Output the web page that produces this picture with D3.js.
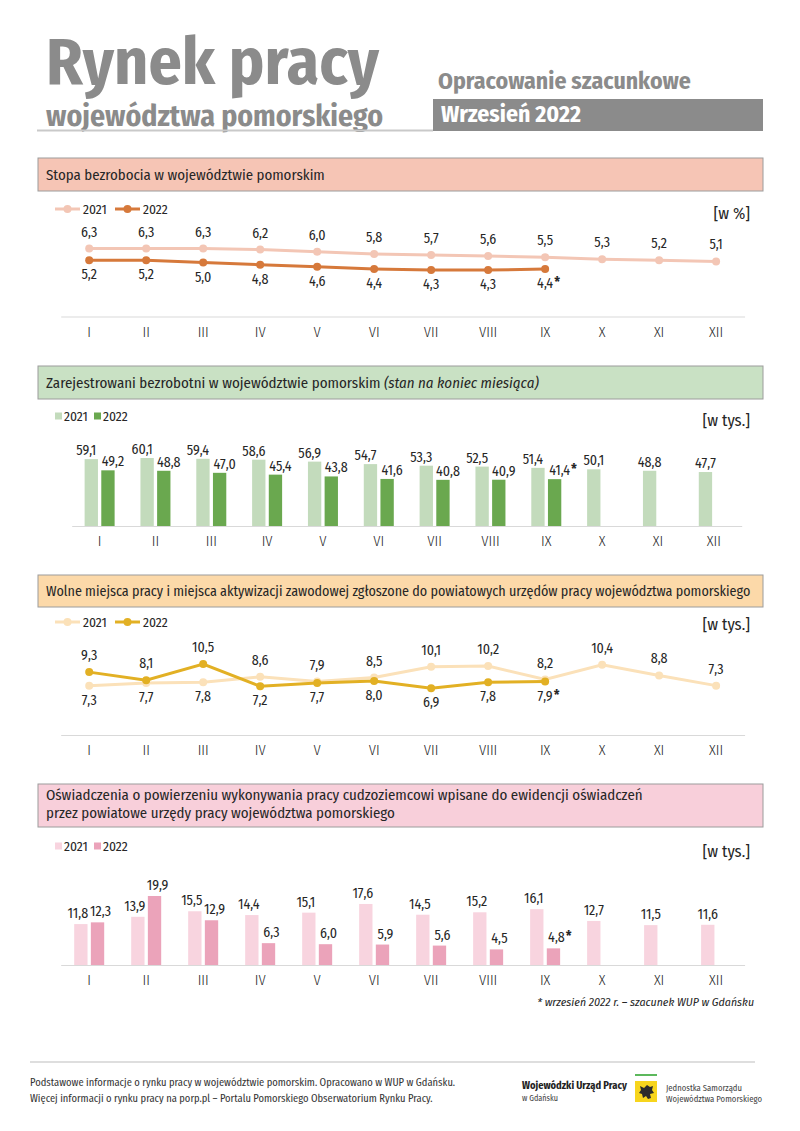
<!DOCTYPE html>
<html>
<head>
<meta charset="utf-8">
<script src="https://cdn.jsdelivr.net/npm/d3@7"></script>
<style>
  body { margin: 0; background: #fff; }
  svg { display: block; font-family: 'Fira Sans Condensed', 'Noto Sans', 'DejaVu Sans', sans-serif; font-stretch: condensed; }
</style>
</head>
<body>
<svg id="chart"></svg>
<script>
const MONTHS = ['I', 'II', 'III', 'IV', 'V', 'VI', 'VII', 'VIII', 'IX', 'X', 'XI', 'XII'];
const SERIES = ['2021', '2022'];

// stopa bezrobocia [w %]
const RATE_2021 = [6.3, 6.3, 6.3, 6.2, 6.0, 5.8, 5.7, 5.6, 5.5, 5.3, 5.2, 5.1];
const RATE_2022 = [5.2, 5.2, 5.0, 4.8, 4.6, 4.4, 4.3, 4.3, 4.4];
// zarejestrowani bezrobotni [w tys.]
const UNEMP_2021 = [59.1, 60.1, 59.4, 58.6, 56.9, 54.7, 53.3, 52.5, 51.4, 50.1, 48.8, 47.7];
const UNEMP_2022 = [49.2, 48.8, 47.0, 45.4, 43.8, 41.6, 40.8, 40.9, 41.4];
// wolne miejsca pracy [w tys.]
const VAC_2021 = [7.3, 7.7, 7.8, 8.6, 7.9, 8.5, 10.1, 10.2, 8.2, 10.4, 8.8, 7.3];
const VAC_2022 = [9.3, 8.1, 10.5, 7.2, 7.7, 8.0, 6.9, 7.8, 7.9];
// oswiadczenia [w tys.]
const DECL_2021 = [11.8, 13.9, 15.5, 14.4, 15.1, 17.6, 14.5, 15.2, 16.1, 12.7, 11.5, 11.6];
const DECL_2022 = [12.3, 19.9, 12.9, 6.3, 6.0, 5.9, 5.6, 4.5, 4.8];

const pl = d3.formatLocale({decimal: ',', thousands: ' ', grouping: [3], currency: ['', ' zł']});
const fmt = pl.format('.1f');

const LABEL_SIZE = 14;

const svg = d3.select('#chart').attr('width', 800).attr('height', 1131);
svg.append('rect').attr('width', 800).attr('height', 1131).attr('fill', '#fff');

// scale font size so the text gets the width it has in the original
function fit(sel, w) {
  sel.each(function () {
    const len = this.getComputedTextLength();
    const fs = parseFloat(this.getAttribute('font-size'));
    this.setAttribute('font-size', (fs * w / len).toFixed(2));
  });
}

function txt(x, y, s, size, opts = {}) {
  return svg.append('text')
    .attr('x', x).attr('y', y)
    .attr('font-size', size)
    .attr('font-weight', opts.weight || 400)
    .attr('font-style', opts.style || 'normal')
    .attr('fill', opts.fill || '#262626')
    .attr('text-anchor', opts.anchor || 'start')
    .text(s);
}

// ---- header
txt(46, 84, 'Rynek pracy', 58, {weight: 700, fill: '#8b8b8b'}).call(fit, 333);
txt(46, 126, 'województwa pomorskiego', 28, {weight: 700, fill: '#8b8b8b'}).call(fit, 337);
svg.append('line').attr('x1', 37).attr('x2', 433).attr('y1', 130.5).attr('y2', 130.5)
  .attr('stroke', '#c9c9c9').attr('stroke-width', 2);
txt(438, 89, 'Opracowanie szacunkowe', 21, {weight: 700, fill: '#8b8b8b'}).call(fit, 253);
svg.append('rect').attr('x', 433).attr('y', 99).attr('width', 330).attr('height', 32).attr('fill', '#8b8b8b');
txt(441, 122, 'Wrzesień 2022', 20, {weight: 700, fill: '#fff'}).call(fit, 140);

// ---- panel pieces
function titleBox(y, h, fill) {
  svg.append('rect').attr('x', 38).attr('y', y).attr('width', 725).attr('height', h)
    .attr('fill', fill).attr('stroke', '#9c9c9c').attr('stroke-width', 1);
}

function lineLegend(y, colors) {
  SERIES.forEach((s, i) => {
    const x0 = 55 + i * 60;
    svg.append('line').attr('x1', x0).attr('x2', x0 + 25).attr('y1', y).attr('y2', y)
      .attr('stroke', colors[i]).attr('stroke-width', 3);
    svg.append('circle').attr('cx', x0 + 12.5).attr('cy', y).attr('r', 4).attr('fill', colors[i]);
    txt(x0 + 28, y + 4.5, s, 13.5);
  });
}

function squareLegend(y, colors) {
  SERIES.forEach((s, i) => {
    const x0 = 55 + i * 39;
    svg.append('rect').attr('x', x0).attr('y', y - 3.5).attr('width', 7).attr('height', 7).attr('fill', colors[i]);
    txt(x0 + 9, y + 4.5, s, 13.5);
  });
}

function unitLabel(y, s) {
  txt(750, y, s, 16.5, {anchor: 'end'});
}

function monthAxis(x, axisY) {
  svg.append('g')
    .attr('transform', `translate(0,${axisY})`)
    .call(d3.axisBottom(x).tickSize(0).tickSizeOuter(0).tickPadding(10))
    .call(g => {
      g.attr('font-family', null).attr('font-size', 14.5).attr('font-weight', 300);
      g.select('.domain').attr('stroke', '#d9d9d9');
      g.selectAll('text').attr('fill', '#262626');
    });
}

function star(x, y) {
  txt(x, y - 1, '*', 14, {weight: 700});
}

function lineChart(x, y, v21, v22, colors) {
  const cx = m => x(m) + x.bandwidth() / 2;
  const line = d3.line().x((d, i) => cx(MONTHS[i])).y(d => y(d));
  [v21, v22].forEach((vals, k) => {
    svg.append('path').datum(vals).attr('d', line)
      .attr('fill', 'none').attr('stroke', colors[k]).attr('stroke-width', 3);
    svg.selectAll(null).data(vals).enter().append('circle')
      .attr('cx', (d, i) => cx(MONTHS[i])).attr('cy', d => y(d)).attr('r', 4).attr('fill', colors[k]);
  });
  MONTHS.forEach((m, i) => {
    const a = v21[i], b = v22[i];
    const up2022 = b !== undefined && b > a;
    const place = (v, above) => {
      const ty = above ? y(v) - 12 : y(v) + 19;
      return txt(cx(m), ty, fmt(v), LABEL_SIZE, {anchor: 'middle'});
    };
    place(a, !up2022);
    if (b !== undefined) {
      const t = place(b, up2022);
      if (i === v22.length - 1) star(cx(m) + t.node().getComputedTextLength() / 2 + 1, +t.attr('y'));
    }
  });
}

function barChart(x, y, v21, v22, colors, labelDx, labelGap) {
  const x1 = d3.scaleBand().domain(SERIES).range([-15, 15]).paddingInner(0.2);
  const axisY = y(0);
  MONTHS.forEach((m, i) => {
    const c = x(m) + x.bandwidth() / 2;
    const vals = [v21[i], v22[i]];
    const both = vals[1] !== undefined;
    vals.forEach((v, k) => {
      if (v === undefined) return;
      const s = SERIES[k];
      const bx = c + x1(s);
      svg.append('rect').attr('x', bx).attr('y', y(v))
        .attr('width', x1.bandwidth()).attr('height', axisY - y(v)).attr('fill', colors[k]);
      const lx = bx + x1.bandwidth() / 2 + (both ? (k === 0 ? -labelDx : labelDx) : 0);
      const t = txt(lx, y(v) - labelGap, fmt(v), LABEL_SIZE, {anchor: 'middle'});
      if (k === 1 && i === v22.length - 1) star(lx + t.node().getComputedTextLength() / 2 + 1, y(v) - labelGap);
    });
  });
}

// ---- panel 1: stopa bezrobocia
const P1 = ['#f3c6b5', '#d6793b'];
titleBox(158, 33, '#f6c5b5');
txt(46, 180, 'Stopa bezrobocia w województwie pomorskim', 14).call(fit, 279);
lineLegend(209, P1);
unitLabel(219, '[w %]');
const x1 = d3.scaleBand().domain(MONTHS).range([60.7, 744.6]);
const y1 = d3.scaleLinear().domain([0, d3.max(RATE_2021)]).range([316.5, 316.5 - 68]);
monthAxis(x1, 316.5);
lineChart(x1, y1, RATE_2021, RATE_2022, P1);

// ---- panel 2: zarejestrowani bezrobotni
const P2 = ['#c3dbbc', '#6aa84f'];
titleBox(366, 33, '#c9e1c4');
const t2 = txt(46, 388, 'Zarejestrowani bezrobotni w województwie pomorskim ', 14);
t2.append('tspan').attr('font-style', 'italic').text('(stan na koniec miesiąca)');
t2.call(fit, 493);
squareLegend(416, P2);
unitLabel(426, '[w tys.]');
const x2 = d3.scaleBand().domain(MONTHS).range([71.7, 741.7]);
const y2 = d3.scaleLinear().domain([0, d3.max(UNEMP_2021)]).range([526, 526 - 68]);
monthAxis(x2, 526);
barChart(x2, y2, UNEMP_2021, UNEMP_2022, P2, 5, 4);

// ---- panel 3: wolne miejsca pracy
const P3 = ['#fbe1b9', '#e2b024'];
titleBox(575, 32, '#fcd9a9');
txt(46, 596, 'Wolne miejsca pracy i miejsca aktywizacji zawodowej zgłoszone do powiatowych urzędów pracy województwa pomorskiego', 14).call(fit, 705);
lineLegend(622, P3);
unitLabel(630, '[w tys.]');
const x3 = d3.scaleBand().domain(MONTHS).range([60.7, 744.6]);
const y3 = d3.scaleLinear().domain([0, d3.max(VAC_2021.concat(VAC_2022))]).range([735, 735 - 71]);
monthAxis(x3, 735);
lineChart(x3, y3, VAC_2021, VAC_2022, P3);

// ---- panel 4: oswiadczenia
const P4 = ['#f8d4df', '#eba3ba'];
titleBox(784, 43, '#f8cfda');
txt(46, 800, 'Oświadczenia o powierzeniu wykonywania pracy cudzoziemcowi wpisane do ewidencji oświadczeń', 14).call(fit, 597);
txt(46, 818, 'przez powiatowe urzędy pracy województwa pomorskiego', 14).call(fit, 349);
squareLegend(846, P4);
unitLabel(857, '[w tys.]');
const x4 = d3.scaleBand().domain(MONTHS).range([60.7, 744.6]);
const y4 = d3.scaleLinear().domain([0, d3.max(DECL_2022)]).range([965, 965 - 69]);
monthAxis(x4, 965);
barChart(x4, y4, DECL_2021, DECL_2022, P4, 3, 6);
txt(754, 1006, '* wrzesień 2022 r. – szacunek WUP w Gdańsku', 11, {style: 'italic', anchor: 'end'}).call(fit, 217);

// ---- footer
svg.append('line').attr('x1', 30).attr('x2', 755).attr('y1', 1062).attr('y2', 1062).attr('stroke', '#bdbdbd');
txt(30, 1086, 'Podstawowe informacje o rynku pracy w województwie pomorskim. Opracowano w WUP w Gdańsku.', 10.5, {fill: '#333'}).call(fit, 425);
txt(30, 1102, 'Więcej informacji o rynku pracy na porp.pl – Portalu Pomorskiego Obserwatorium Rynku Pracy.', 10.5, {fill: '#333'}).call(fit, 403);
txt(522, 1089, 'Wojewódzki Urząd Pracy', 11, {weight: 700, fill: '#222'}).call(fit, 105);
txt(522, 1101, 'w Gdańsku', 8.5, {fill: '#444'}).call(fit, 36);
svg.append('line').attr('x1', 635).attr('x2', 657).attr('y1', 1075).attr('y2', 1075).attr('stroke', '#5cb85c').attr('stroke-width', 2);
svg.append('rect').attr('x', 635).attr('y', 1081).attr('width', 22).attr('height', 21).attr('fill', '#f7d51d');
svg.append('path')
  .attr('d', 'M640,1086 l4,2 l3,-3 l3,2 l3,-1 l-1,4 l2,3 l-4,1 l1,4 l-3,1 l-2,-3 l-3,2 l-1,-4 l-3,-1 l2,-3 z')
  .attr('fill', '#2b2b2b');
txt(666, 1091, 'Jednostka Samorządu', 9, {fill: '#444'}).call(fit, 76);
txt(666, 1102, 'Województwa Pomorskiego', 9, {fill: '#444'}).call(fit, 96);
</script>
</body>
</html>
